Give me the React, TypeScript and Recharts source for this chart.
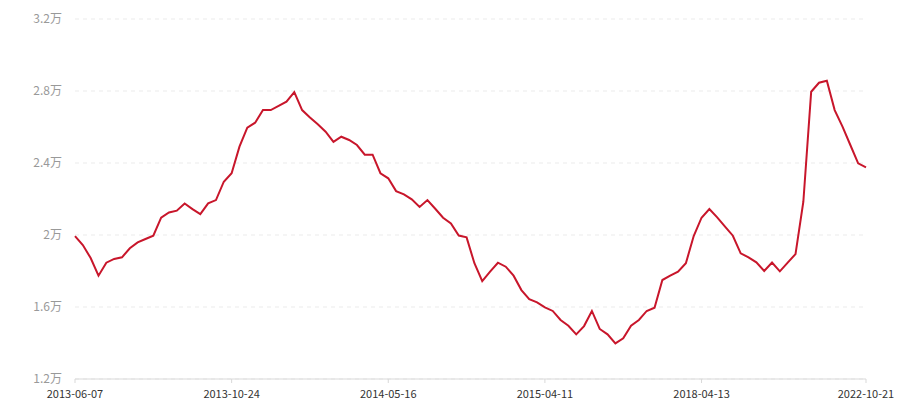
import { CartesianGrid, Line, LineChart, XAxis, YAxis } from "recharts";

// Price series (yuan), one point per sample.
const PRICES: number[] = [
  19940, 19440, 18720, 17740, 18460, 18670, 18760, 19260, 19590, 19780,
  19960, 20960, 21250, 21350, 21750, 21440, 21160, 21760, 21940, 22960,
  23430, 24910, 25960, 26240, 26940, 26940, 27170, 27410, 27940, 26940,
  26530, 26150, 25740, 25170, 25460, 25280, 25000, 24460, 24460, 23430,
  23150, 22440, 22260, 21980, 21560, 21940, 21460, 20960, 20640, 19970,
  19870, 18430, 17440, 17960, 18460, 18240, 17740, 16940, 16440, 16260,
  15980, 15780, 15280, 14960, 14480, 14940, 15780, 14780, 14480, 13980,
  14260, 14960, 15280, 15780, 15960, 17500, 17740, 17960, 18430, 19940,
  20960, 21440, 20980, 20470, 19960, 18980, 18760, 18480, 18000, 18470,
  17980, 18470, 18940, 21850, 27960, 28460, 28570, 26940, 26020, 25000,
  23980, 23760,
];

// Category positions that carry a date label, and the labels themselves.
const TICK_INDEX: number[] = [0, 20, 40, 60, 80, 101];
const TICK_LABELS: string[] = [
  "2013-06-07",
  "2013-10-24",
  "2014-05-16",
  "2015-04-11",
  "2018-04-13",
  "2022-10-21",
];

const Y_TICKS: number[] = [12000, 16000, 20000, 24000, 28000, 32000];

const data = PRICES.map((price, i) => ({ i, price }));

const FONT = '"Microsoft YaHei", "Noto Sans CJK SC", sans-serif';

export default function App() {
  return (
    <div style={{ position: "absolute", left: 0, top: 0, background: "#fff" }}>
      <LineChart
        width={900}
        height={400}
        data={data}
        margin={{ top: 19, right: 34, bottom: 0, left: 0 }}
      >
        <CartesianGrid
          vertical={false}
          stroke="#ebebeb"
          strokeDasharray="4 4"
        />
        <XAxis
          dataKey="i"
          type="number"
          domain={[0, PRICES.length - 1]}
          ticks={TICK_INDEX}
          tickFormatter={(v: number) => TICK_LABELS[TICK_INDEX.indexOf(v)] ?? ""}
          height={21}
          stroke="#d9d9d9"
          tickSize={4}
          tickMargin={7}
          interval={0}
          tick={{ fill: "#333", fontSize: 11, fontFamily: FONT }}
        />
        <YAxis
          domain={[12000, 32000]}
          ticks={Y_TICKS}
          width={75}
          axisLine={false}
          tickLine={false}
          tickMargin={7}
          tickFormatter={(v: number) => `${v / 10000}万`}
          tick={{ fill: "#999", fontSize: 12, fontFamily: FONT }}
        />
        <Line
          type="linear"
          dataKey="price"
          stroke="#c8162b"
          strokeWidth={2}
          dot={false}
          activeDot={false}
          isAnimationActive={false}
        />
      </LineChart>
    </div>
  );
}
